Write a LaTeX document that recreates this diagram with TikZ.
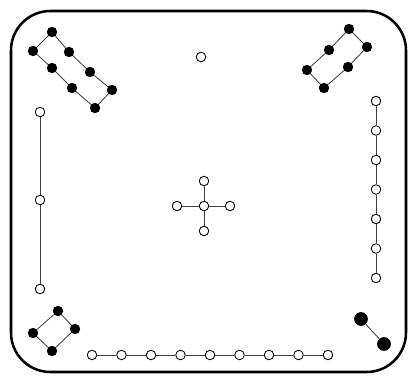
\documentclass[tikz,border=0pt]{standalone}
\begin{document}
\begin{tikzpicture}[x=0.025cm,y=-0.025cm,
  wdot/.style={circle,draw,fill=white,inner sep=0pt,minimum size=6.8pt,line width=0.6pt},
  bdot/.style={circle,fill=black,inner sep=0pt,minimum size=7.4pt},
  bigdot/.style={circle,fill=black,inner sep=0pt,minimum size=9.8pt},
  link/.style={line width=0.6pt,black!75}]
  \useasboundingbox (0,0) rectangle (410,376);
  \draw[line width=1.8pt,rounded corners=28pt] (11,11) rectangle (406,372);
  % top left block
  \node[bdot] (a1) at (52,32) {};
  \node[bdot] (a2) at (69,52) {};
  \node[bdot] (a3) at (90,72) {};
  \node[bdot] (a4) at (112,90) {};
  \node[bdot] (b1) at (33,51) {};
  \node[bdot] (b2) at (52,68) {};
  \node[bdot] (b3) at (72,88) {};
  \node[bdot] (b4) at (95,108) {};
  \draw[link] (a1) -- (a2) -- (a3) -- (a4) -- (b4) -- (b3) -- (b2) -- (b1) -- (a1);
  % top right block
  \node[bdot] (p1) at (349,29) {};
  \node[bdot] (p2) at (329,50) {};
  \node[bdot] (p3) at (307,70) {};
  \node[bdot] (q1) at (367,47) {};
  \node[bdot] (q2) at (348,67) {};
  \node[bdot] (q3) at (324,88) {};
  \draw[link] (p1) -- (p2) -- (p3) -- (q3) -- (q2) -- (q1) -- (p1);
  % bottom left block
  \node[bdot] (d1) at (58,311) {};
  \node[bdot] (d2) at (75,329) {};
  \node[bdot] (d3) at (52,351) {};
  \node[bdot] (d4) at (33,333) {};
  \draw[link] (d1) -- (d2) -- (d3) -- (d4) -- (d1);
  % bottom right pair
  \node[bigdot] (e1) at (361,319) {};
  \node[bigdot] (e2) at (384,344) {};
  \draw[link] (e1) -- (e2);
  % lone dot
  \node[wdot] (top) at (201,57) {};
  % cross
  \node[wdot] (c) at (204,206) {};
  \node[wdot] (ct) at (204,181) {};
  \node[wdot] (cb) at (204,231) {};
  \node[wdot] (cl) at (177,206) {};
  \node[wdot] (cr) at (230,206) {};
  \draw[link] (c) -- (ct) (c) -- (cb) (c) -- (cl) (c) -- (cr);
  % left column
  \node[wdot] (l0) at (40,112) {};
  \node[wdot] (l1) at (40,200) {};
  \node[wdot] (l2) at (40,289) {};
  \draw[link] (l0) -- (l1) -- (l2);
  % right column
  \foreach \i in {0,...,6}
    \node[wdot] (r\i) at (376,101+29.5*\i) {};
  \foreach \i [evaluate=\i as \j using int(\i+1)] in {0,...,5}
    \draw[link] (r\i) -- (r\j);
  % bottom row
  \foreach \i in {0,...,8}
    \node[wdot] (s\i) at (92+29.5*\i,355) {};
  \foreach \i [evaluate=\i as \j using int(\i+1)] in {0,...,7}
    \draw[link] (s\i) -- (s\j);
\end{tikzpicture}
\end{document}
